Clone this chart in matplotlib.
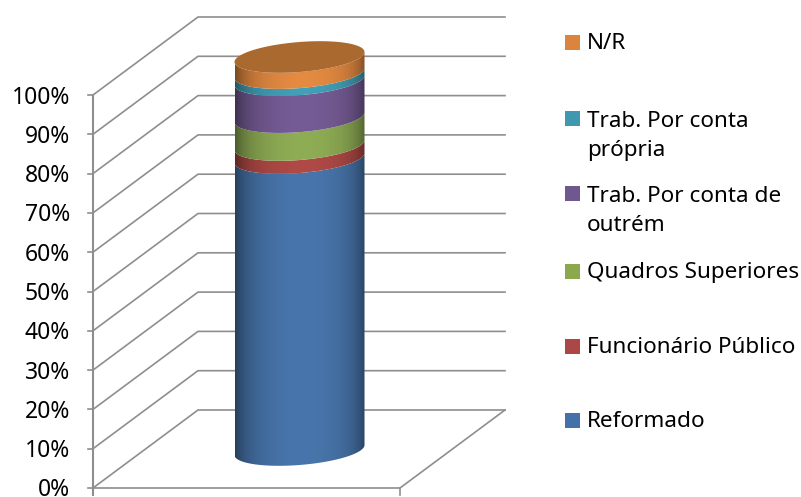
import numpy as np
import matplotlib
matplotlib.use('Agg')
import matplotlib.pyplot as plt
from matplotlib.patches import Polygon, Rectangle
from matplotlib.colors import to_rgb

plt.rcParams['font.family'] = ['Noto Sans', 'DejaVu Sans']

# bottom to top of the stack
categories = ['Reformado', 'Funcionário Público', 'Quadros Superiores',
              'Trab. Por conta de\noutrém', 'Trab. Por conta\nprópria', 'N/R']
values = [74.3, 3.3, 7.1, 9.4, 1.8, 4.1]
colors = ['#4876AC', '#B04A46', '#8FAD55', '#765C96', '#42A0B8', '#E58B42']
legend_colors = ['#4472A8', '#AB4744', '#8CA84F', '#6F5792', '#3F98B0', '#DB843D']
legend_y = [420, 346, 271, 193, 118, 42]
ticks = list(range(0, 101, 10))

# pixel geometry of the fake 3d box
PX_PER_PCT = 3.93
Y0 = 488
X_FRONT, X_BACK, X_END = 93, 198, 505
DEPTH = 78
CX, A, B, TILT = 299.5, 65, 15, 5
CYL_BASE = 450


def ypos(p):
    return Y0 - p * PX_PER_PCT


def cyl_y(p):
    return CYL_BASE - p * PX_PER_PCT


def arc(p, start=0, stop=np.pi, n=80):
    t = np.linspace(start, stop, n)
    return CX + A * np.cos(t), cyl_y(p) + B * np.sin(t) - TILT * np.cos(t)


def shaded(color):
    # darker on the sides, like the excel cylinder
    xs = np.linspace(-1, 1, 260)
    f = 1 - 0.20 * np.abs(xs) ** 2 - 0.22 * np.abs(xs) ** 6 - 0.05 * (xs < 0) * np.abs(xs)
    return np.clip(np.outer(f, to_rgb(color)), 0, 1)[np.newaxis, :, :]


fig = plt.figure(figsize=(8.01, 4.97), dpi=100)
ax = fig.add_axes([0, 0, 1, 1])

grey = '#8E8E8E'
for t in ticks:
    y = ypos(t)
    ax.plot([X_FRONT, X_BACK, X_END], [y, y - DEPTH, y - DEPTH], color=grey, lw=1.2, zorder=1)
    ax.plot([X_FRONT - 5, X_FRONT], [y, y], color=grey, lw=1.2, zorder=1)
    ax.text(70, y + 2.5, f'{t}%', ha='right', va='center', fontsize=16.5, color='black')

# axis and floor
ax.plot([X_FRONT, X_FRONT], [ypos(100), Y0 + 7], color=grey, lw=1.5, zorder=1)
ax.plot([X_FRONT, 400, X_END], [Y0, Y0, ypos(0) - DEPTH], color=grey, lw=1.2, zorder=1)
ax.plot([400, 400], [Y0, Y0 + 7], color=grey, lw=1.2, zorder=1)

# cylinder segments
bottom = 0
for val, col in zip(values, colors):
    top = bottom + val
    xl, yl = arc(bottom)
    xu, yu = arc(top)
    pts = np.column_stack([np.r_[xl, xu[::-1]], np.r_[yl, yu[::-1]]])
    poly = Polygon(pts, closed=True, transform=ax.transData, fc='none', ec='none')
    ax.add_patch(poly)
    im = ax.imshow(shaded(col), extent=[CX - A, CX + A, yl.max() + 2, yu.min() - 2],
                   aspect='auto', zorder=3, interpolation='bilinear')
    im.set_clip_path(poly)
    bottom = top

# top cap
xc, yc = arc(bottom, 0, 2 * np.pi, 160)
ax.add_patch(Polygon(np.column_stack([xc, yc]), closed=True, fc='#A9692F', ec='none', zorder=4))

# legend
for name, col, y in zip(categories, legend_colors, legend_y):
    ax.add_patch(Rectangle((565, y - 7.5), 15, 15, fc=col, ec='none', zorder=2))
    n_lines = name.count('\n')
    ax.text(587, y + 1.5 + n_lines * 16.5, name, ha='left', va='center', fontsize=16.2,
            color='black', linespacing=1.55)

ax.set_xlim(0, 801)
ax.set_ylim(497, 0)
ax.axis('off')

fig.savefig('out.png', dpi=100)
